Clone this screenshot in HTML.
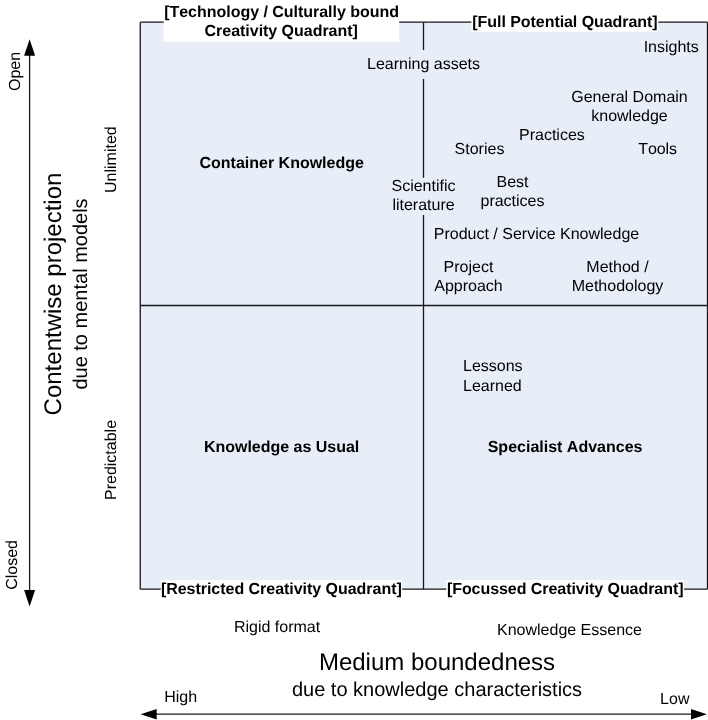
<!DOCTYPE html>
<html lang="en">
<head>
<meta charset="utf-8">
<title>Knowledge quadrants</title>
<style>
html,body{margin:0;padding:0;background:#fff;}
body{width:708px;height:720px;overflow:hidden;}
svg{display:block;font-family:"Liberation Sans",Arial,sans-serif;fill:#000;text-rendering:geometricPrecision;font-kerning:none;}
</style>
</head>
<body>
<svg width="708" height="720" viewBox="0 0 708 720">
<rect x="140.25" y="22.2" width="567.25" height="567.0" fill="#e8eef7"/>
<line x1="140.25" y1="22.2" x2="707.5" y2="22.2" stroke="#15171a" stroke-width="1.3"/>
<line x1="140.25" y1="589.2" x2="707.5" y2="589.2" stroke="#15171a" stroke-width="1.3"/>
<line x1="140.25" y1="22.2" x2="140.25" y2="589.2" stroke="#15171a" stroke-width="1.3"/>
<line x1="707.5" y1="22.2" x2="707.5" y2="589.2" stroke="#15171a" stroke-width="1.3"/>
<line x1="423.5" y1="22.2" x2="423.5" y2="589.2" stroke="#15171a" stroke-width="1.3"/>
<line x1="140.25" y1="305.5" x2="707.5" y2="305.5" stroke="#15171a" stroke-width="1.3"/>
<rect x="163.7" y="0" width="235.5" height="41.7" fill="#fff"/>
<rect x="471.4" y="10" width="186.9" height="21.7" fill="#fff"/>
<rect x="160.8" y="580" width="241.4" height="20" fill="#fff"/>
<rect x="446.3" y="580" width="237.8" height="20" fill="#fff"/>
<rect x="366" y="50" width="115" height="29" fill="#e8eef7"/>
<rect x="390" y="177.8" width="67" height="37.2" fill="#e8eef7"/>
<text x="281.6" y="17" font-size="16" text-anchor="middle" font-weight="bold" textLength="234.9" lengthAdjust="spacing">[Technology / Culturally bound</text>
<text x="281.2" y="36" font-size="16" text-anchor="middle" font-weight="bold" textLength="153.2" lengthAdjust="spacing">Creativity Quadrant]</text>
<text x="565" y="27" font-size="16" text-anchor="middle" font-weight="bold" textLength="185.3" lengthAdjust="spacing">[Full Potential Quadrant]</text>
<text x="281.35" y="594" font-size="16" text-anchor="middle" font-weight="bold" textLength="240.9" lengthAdjust="spacing">[Restricted Creativity Quadrant]</text>
<text x="565.2" y="594" font-size="16" text-anchor="middle" font-weight="bold" textLength="236.6" lengthAdjust="spacing">[Focussed Creativity Quadrant]</text>
<text x="281.7" y="168" font-size="16" text-anchor="middle" font-weight="bold" textLength="164.4" lengthAdjust="spacing">Container Knowledge</text>
<text x="281.6" y="452" font-size="16" text-anchor="middle" font-weight="bold" textLength="155.3" lengthAdjust="spacing">Knowledge as Usual</text>
<text x="565.1" y="452" font-size="16" text-anchor="middle" font-weight="bold" textLength="154.8" lengthAdjust="spacing">Specialist Advances</text>
<text x="423.5" y="69" font-size="16" text-anchor="middle">Learning assets</text>
<text x="671.2" y="52" font-size="16" text-anchor="middle">Insights</text>
<text x="629.5" y="102" font-size="16" text-anchor="middle">General Domain</text>
<text x="629.5" y="121" font-size="16" text-anchor="middle">knowledge</text>
<text x="551.9" y="140" font-size="16" text-anchor="middle">Practices</text>
<text x="479.5" y="154" font-size="16" text-anchor="middle">Stories</text>
<text x="657.6" y="154" font-size="16" text-anchor="middle" textLength="38.7" lengthAdjust="spacing">Tools</text>
<text x="423.5" y="191" font-size="16" text-anchor="middle">Scientific</text>
<text x="423.5" y="210" font-size="16" text-anchor="middle">literature</text>
<text x="512.5" y="187" font-size="16" text-anchor="middle">Best</text>
<text x="512.5" y="206" font-size="16" text-anchor="middle">practices</text>
<text x="536.5" y="239" font-size="16" text-anchor="middle">Product / Service Knowledge</text>
<text x="468.5" y="272" font-size="16" text-anchor="middle">Project</text>
<text x="468.5" y="291" font-size="16" text-anchor="middle">Approach</text>
<text x="617.5" y="272" font-size="16" text-anchor="middle">Method /</text>
<text x="617.5" y="291" font-size="16" text-anchor="middle">Methodology</text>
<text x="463" y="371" font-size="16">Lessons</text>
<text x="463" y="391" font-size="16">Learned</text>
<text x="277" y="632" font-size="16" text-anchor="middle">Rigid format</text>
<text x="569.5" y="635" font-size="16" text-anchor="middle">Knowledge Essence</text>
<text x="437" y="670" font-size="24" text-anchor="middle">Medium boundedness</text>
<text x="437" y="696" font-size="20" text-anchor="middle">due to knowledge characteristics</text>
<text x="164.2" y="702" font-size="16">High</text>
<text x="660.1" y="704" font-size="16">Low</text>
<text transform="translate(20.2 71.5) rotate(-90)" font-size="16" text-anchor="middle">Open</text>
<text transform="translate(17.3 564.9) rotate(-90)" font-size="16" text-anchor="middle">Closed</text>
<text transform="translate(116.2 159.6) rotate(-90)" font-size="16" text-anchor="middle">Unlimited</text>
<text transform="translate(116 460) rotate(-90)" font-size="16" text-anchor="middle">Predictable</text>
<text transform="translate(61.1 294) rotate(-90)" font-size="24" text-anchor="middle">Contentwise projection</text>
<text transform="translate(86.7 294) rotate(-90)" font-size="20" text-anchor="middle">due to mental models</text>
<line x1="29.6" y1="50" x2="29.6" y2="596" stroke="#15171a" stroke-width="1.3"/>
<polygon points="29.6,39.2 24.1,55.8 35.1,55.8" fill="#000"/>
<polygon points="29.6,606.5 24.1,590 35.1,590" fill="#000"/>
<line x1="150" y1="714.2" x2="696" y2="714.2" stroke="#15171a" stroke-width="1.3"/>
<polygon points="140.6,714.2 156.7,709.0 156.7,719.4000000000001" fill="#000"/>
<polygon points="706.9,714.2 691,709.0 691,719.4000000000001" fill="#000"/>
</svg>
</body>
</html>
